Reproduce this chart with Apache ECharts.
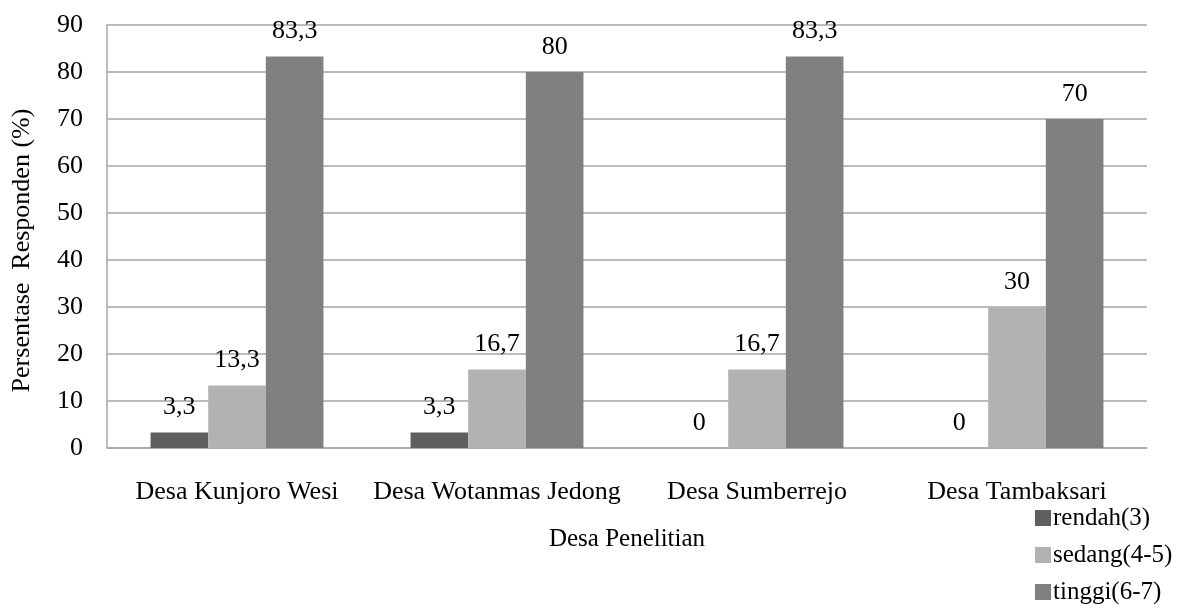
<!DOCTYPE html>
<html>
<head>
<meta charset="utf-8">
<script src="https://cdn.jsdelivr.net/npm/echarts@6/dist/echarts.min.js"></script>
<style>
  html, body { margin: 0; padding: 0; background: #ffffff; }
  #chart { width: 1187px; height: 608px; }
</style>
</head>
<body>
<div id="chart"></div>
<script>
// Villages surveyed
const categories = ['Desa Kunjoro Wesi', 'Desa Wotanmas Jedong', 'Desa Sumberrejo', 'Desa Tambaksari'];
// Share of respondents (%) per score class
const rendah = [3.3, 3.3, 0, 0];
const sedang = [13.3, 16.7, 16.7, 30];
const tinggi = [83.3, 80, 83.3, 70];
const seriesNames = ['rendah(3)', 'sedang(4-5)', 'tinggi(6-7)'];
const seriesColors = ['#5f5f5f', '#b2b2b2', '#808080'];

const FONT = "'Liberation Serif', 'Times New Roman', serif";

const labelOpt = {
  show: true,
  position: 'top',
  distance: 12,
  color: '#000',
  fontFamily: FONT,
  fontSize: 26,
  formatter: p => String(p.value).replace('.', ',')
};

function makeSeries(name, data, color) {
  return {
    name: name,
    type: 'bar',
    data: data,
    barGap: '0%',
    barCategoryGap: '33.5%',
    itemStyle: { color: color },
    label: labelOpt
  };
}

const chart = echarts.init(document.getElementById('chart'), null, { renderer: 'canvas' });
chart.setOption({
  animation: false,
  backgroundColor: '#ffffff',
  textStyle: { fontFamily: FONT },
  grid: { left: 107, right: 40, top: 25, bottom: 160, containLabel: false },
  legend: {
    orient: 'vertical',
    left: 1035,
    top: 505,
    padding: 0,
    itemWidth: 16,
    itemHeight: 16,
    itemGap: 11,
    icon: 'rect',
    data: seriesNames,
    textStyle: { fontFamily: FONT, fontSize: 25, color: '#000', lineHeight: 26, padding: [0, 0, 0, -3] }
  },
  xAxis: {
    type: 'category',
    data: categories,
    name: 'Desa Penelitian',
    nameLocation: 'middle',
    nameGap: 79,
    nameTextStyle: { fontFamily: FONT, fontSize: 25, color: '#000' },
    axisLine: { show: true, lineStyle: { color: '#a6a6a6', width: 1.5 } },
    axisTick: { show: false },
    axisLabel: { interval: 0, fontFamily: FONT, fontSize: 26, color: '#000', margin: 31 }
  },
  yAxis: {
    type: 'value',
    min: 0,
    max: 90,
    interval: 10,
    name: 'Persentase  Responden (%)',
    nameLocation: 'middle',
    nameGap: 72,
    nameRotate: 90,
    nameTextStyle: { fontFamily: FONT, fontSize: 26, color: '#000', padding: [0, 0, 0, -28] },
    axisLine: { show: true, lineStyle: { color: '#a6a6a6', width: 1.5 } },
    axisTick: { show: false },
    axisLabel: { fontFamily: FONT, fontSize: 26, color: '#000', margin: 24 },
    splitLine: { show: true, lineStyle: { color: '#a6a6a6', width: 1.5 } }
  },
  series: [
    makeSeries(seriesNames[0], rendah, seriesColors[0]),
    makeSeries(seriesNames[1], sedang, seriesColors[1]),
    makeSeries(seriesNames[2], tinggi, seriesColors[2])
  ]
});
</script>
</body>
</html>
